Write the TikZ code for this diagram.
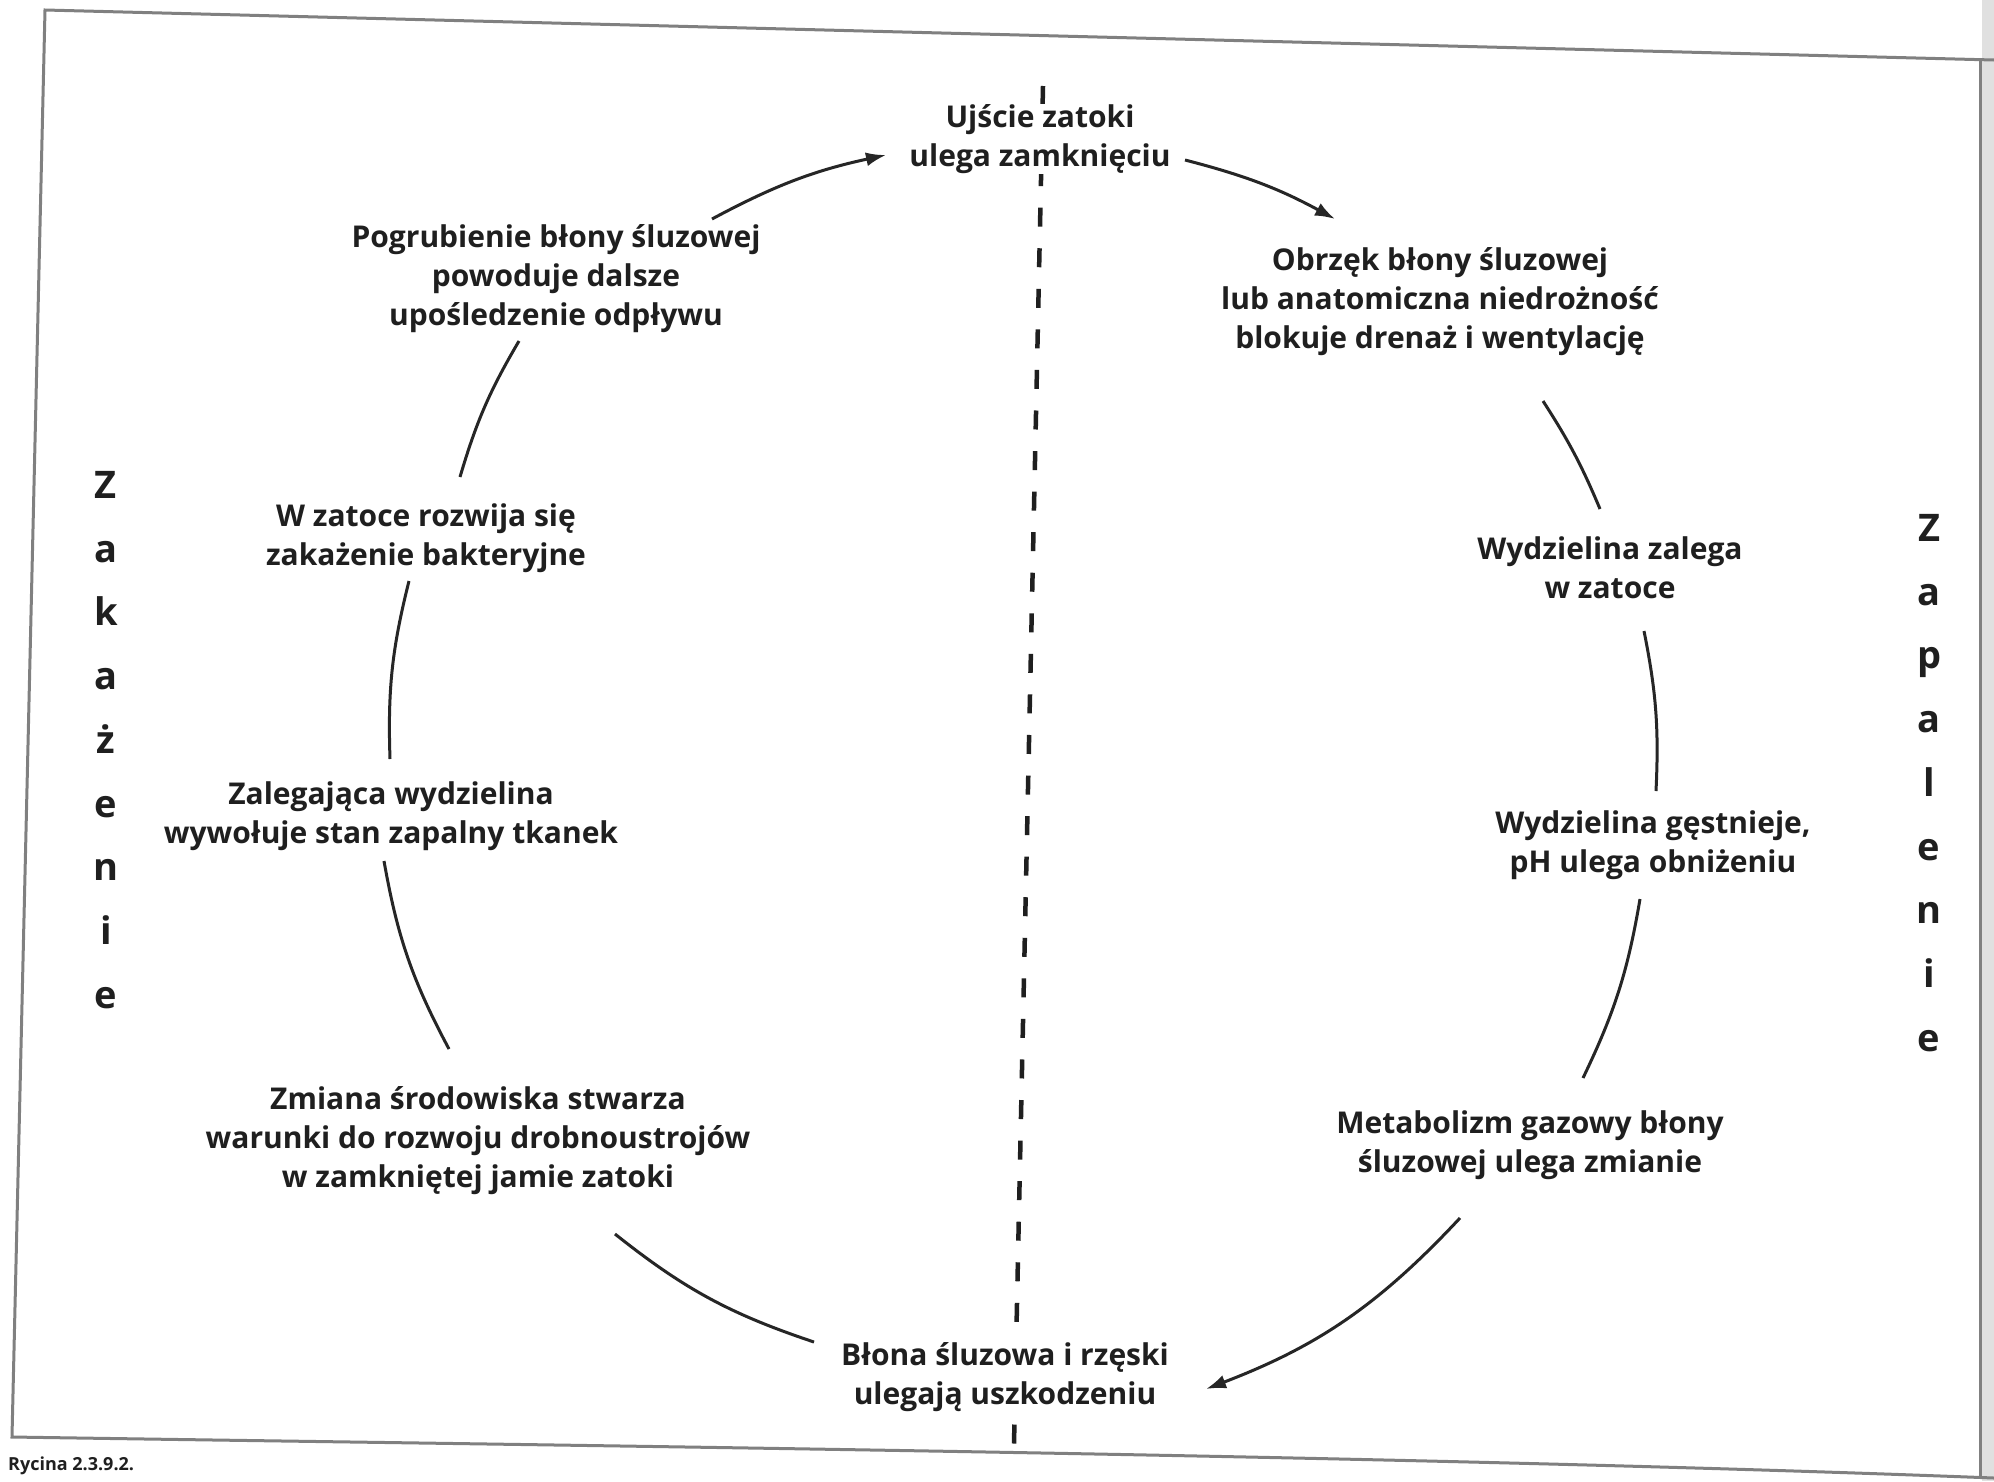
\documentclass[tikz,border=0pt]{standalone}
\usepackage{fontspec}
\setmainfont{Open Sans}
\usetikzlibrary{arrows.meta}
\begin{document}
\begin{tikzpicture}[x=1pt,y=-1pt,
  txt/.style={align=center,font=\fontsize{30}{39}\selectfont\bfseries,inner sep=0pt,text=black!88},
  vert/.style={align=center,font=\fontsize{38}{63.7}\selectfont\bfseries,inner sep=0pt,text=black!88},
  cyc/.style={line width=3pt,draw=black!85},
  tip/.style={cyc,-{Latex[length=20pt,width=14pt]}},
  frame/.style={line width=3pt,draw=black!50},
  dashline/.style={line width=4.5pt,draw=black!88,dash pattern=on 19pt off 21.57pt}
]
\useasboundingbox (0,0) rectangle (1994,1481);
\fill[white] (0,0) rectangle (1994,1481);
\fill[black!12] (1982,0) rectangle (1994,1481);
% frame
\draw[frame] (1994,60) -- (45,10) -- (12,1437) .. controls (600,1446) and (1400,1455) .. (1994,1478);
\draw[frame] (1980,60) -- (1980,1477);
% dashed divider
\coordinate (dtop) at (1043,86);
\coordinate (dbot) at (1014,1444);
\draw[dashline] (dtop) -- (dbot);
% texts
\node[txt,fill=white] (ujs) at (1040,139) {Ujście zatoki\\ulega zamknięciu};
\node[txt] (obr) at (1440,302) {Obrzęk błony śluzowej\\lub anatomiczna niedrożność\\blokuje drenaż i wentylację};
\node[txt] (wyd) at (1610,568) {Wydzielina zalega\\w zatoce};
\node[txt] (gest) at (1653,845) {Wydzielina gęstnieje,\\pH ulega obniżeniu};
\node[txt] (met) at (1530,1145) {Metabolizm gazowy błony\\śluzowej ulega zmianie};
\node[txt,fill=white] (blo) at (1005,1377) {Błona śluzowa i rzęski\\ulegają uszkodzeniu};
\node[txt] (zmi) at (478,1141) {Zmiana środowiska stwarza\\warunki do rozwoju drobnoustrojów\\w zamkniętej jamie zatoki};
\node[txt] (zal) at (391,816) {Zalegająca wydzielina\\wywołuje stan zapalny tkanek};
\node[txt] (wza) at (426,538) {W zatoce rozwija się\\zakażenie bakteryjne};
\node[txt] (pog) at (556,279) {Pogrubienie błony śluzowej\\powoduje dalsze\\upośledzenie odpływu};
\node[vert] (zak) at (106,740) {Z\\a\\k\\a\\ż\\e\\n\\i\\e};
\node[vert] (zap) at (1929,783) {Z\\a\\p\\a\\l\\e\\n\\i\\e};
\node[anchor=north west,inner sep=0pt,font=\fontsize{18}{20}\selectfont\bfseries,text=black!88] (cap) at (8,1457) {Rycina 2.3.9.2.};
% arc end points
\coordinate (a1) at (712,219); \coordinate (a2) at (886,155);
\coordinate (b1) at (1185,160); \coordinate (b2) at (1335,219);
\coordinate (c1) at (1543,401); \coordinate (c2) at (1600,509);
\coordinate (d1) at (1644,631); \coordinate (d2) at (1656,791);
\coordinate (e1) at (1640,899); \coordinate (e2) at (1583,1078);
\coordinate (f1) at (1460,1218); \coordinate (f2) at (1206,1389);
\coordinate (g1) at (814,1342); \coordinate (g2) at (615,1234);
\coordinate (h1) at (449,1049); \coordinate (h2) at (384,861);
\coordinate (i1) at (390,759); \coordinate (i2) at (409,581);
\coordinate (j1) at (460,477); \coordinate (j2) at (519,341);
% connectors (clockwise)
\draw[tip] (a1) to[bend left=8] (a2);
\draw[tip] (b1) to[bend left=7] (b2);
\draw[cyc] (c1) to[bend left=5] (c2);
\draw[cyc] (d1) to[bend left=7] (d2);
\draw[cyc] (e1) to[bend left=8] (e2);
\draw[tip] (f1) to[bend left=13] (f2);
\draw[cyc] (g1) to[bend left=10] (g2);
\draw[cyc] (h1) to[bend left=9] (h2);
\draw[cyc] (i1) to[bend left=8] (i2);
\draw[cyc] (j1) to[bend left=7] (j2);
\end{tikzpicture}
\end{document}
